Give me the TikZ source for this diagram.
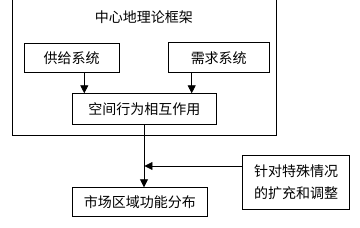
\documentclass[tikz,border=0pt]{standalone}
\usepackage{fontspec}
\newfontfamily\cjk{Noto Sans CJK SC}
\usetikzlibrary{arrows.meta}
\begin{document}
\begin{tikzpicture}[x=1pt,y=-1pt,
  txt/.style={font=\cjk\fontsize{14}{21.7}\selectfont,align=center},
  box/.style={draw,line width=0.8pt,inner sep=0pt,anchor=north west,txt},
  arr/.style={line width=0.8pt,-{Triangle[width=8pt,length=8pt]}}]
\useasboundingbox (0,0) rectangle (360,228);
\begin{scope}
\clip (0,0) rectangle (360,228);
\node[box,minimum width=263.4pt,minimum height=137pt] (outer) at (12.3,-2) {};
\end{scope}
\node[txt] (title) at (144,17.5) {中心地理论框架};
\node[box,minimum width=95.3pt,minimum height=29.3pt] (supply) at (23.7,42.7) {供给系统};
\node[box,minimum width=101.3pt,minimum height=30pt] (demand) at (167.7,42.3) {需求系统};
\node[box,minimum width=143.4pt,minimum height=31pt] (space) at (72.3,93.3) {空间行为相互作用};
\node[box,minimum width=134.4pt,minimum height=28.7pt] (market) at (72.3,187.3) {市场区域功能分布};
\node[box,minimum width=106.7pt,minimum height=53.7pt] (adj) at (242.3,155.3) {针对特殊情况\\的扩充和调整};
\draw[arr] (supply.south -| 84.3,0) -- (space.north -| 84.3,0);
\draw[arr] (demand.south -| 191.7,0) -- (space.north -| 191.7,0);
\draw[arr] (space.south -| 144,0) -- (market.north -| 144,0);
\coordinate (j) at (144,166);
\draw[arr] (adj.west |- j) -- ([xshift=0.5pt]j);
\end{tikzpicture}
\end{document}
